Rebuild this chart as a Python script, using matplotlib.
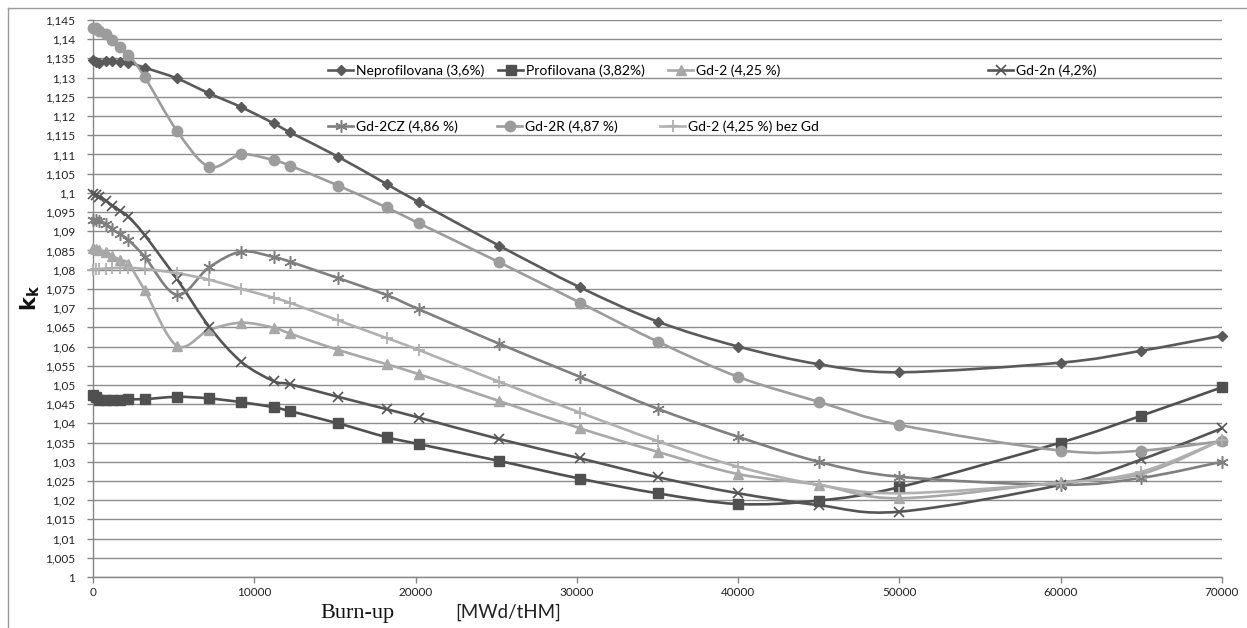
import matplotlib
matplotlib.use('Agg')
import matplotlib.pyplot as plt
import numpy as np
from matplotlib.path import Path
from matplotlib.patches import PathPatch
from matplotlib.lines import Line2D
from matplotlib.legend import Legend
from matplotlib.ticker import FuncFormatter, MultipleLocator

# burn-up steps [MWd/tHM]
burnup = [0, 200, 400, 800, 1200, 1700, 2200, 3200, 5200, 7200, 9200, 11200, 12200,
          15200, 18200, 20200, 25200, 30200, 35000, 40000, 45000, 50000, 60000, 65000, 70000]

neprofilovana = [1.1345, 1.1340, 1.1339, 1.1342, 1.1343, 1.1341, 1.1339, 1.1326, 1.1298,
                 1.1259, 1.1223, 1.1181, 1.1158, 1.1094, 1.1023, 1.0976, 1.0862, 1.0754,
                 1.0665, 1.0600, 1.0554, 1.0533, 1.0558, 1.0589, 1.0628]
profilovana = [1.0473, 1.0468, 1.0462, 1.0460, 1.0461, 1.0462, 1.0463, 1.0463, 1.0469,
               1.0465, 1.0455, 1.0442, 1.0432, 1.0400, 1.0364, 1.0346, 1.0302, 1.0256,
               1.0218, 1.0190, 1.0199, 1.0234, 1.0350, 1.0420, 1.0494]
gd2 = [1.0857, 1.0853, 1.0850, 1.0846, 1.0836, 1.0825, 1.0815, 1.0747, 1.0602, 1.0643,
       1.0662, 1.0649, 1.0634, 1.0591, 1.0554, 1.0528, 1.0458, 1.0387, 1.0326, 1.0268,
       1.0240, 1.0205, 1.0247, 1.0268, 1.0357]
gd2n = [1.0998, 1.0995, 1.0990, 1.0980, 1.0967, 1.0953, 1.0938, 1.0890, 1.0776, 1.0652,
        1.0560, 1.0510, 1.0502, 1.0469, 1.0437, 1.0415, 1.0359, 1.0309, 1.0260, 1.0218,
        1.0187, 1.0170, 1.0240, 1.0306, 1.0387]
gd2cz = [1.0930, 1.0929, 1.0926, 1.0920, 1.0905, 1.0892, 1.0877, 1.0834, 1.0734, 1.0806,
         1.0847, 1.0833, 1.0821, 1.0778, 1.0734, 1.0697, 1.0607, 1.0521, 1.0438, 1.0365,
         1.0300, 1.0261, 1.0240, 1.0258, 1.0300]
gd2r = [1.1430, 1.1428, 1.1422, 1.1414, 1.1398, 1.1381, 1.1360, 1.1302, 1.1162, 1.1068,
        1.1100, 1.1085, 1.1071, 1.1019, 1.0962, 1.0921, 1.0819, 1.0714, 1.0613, 1.0521,
        1.0456, 1.0396, 1.0329, 1.0329, 1.0354]
gd2_bez = [1.0800, 1.0801, 1.0802, 1.0803, 1.0804, 1.0805, 1.0805, 1.0802, 1.0791, 1.0774,
           1.0750, 1.0727, 1.0714, 1.0668, 1.0622, 1.0591, 1.0508, 1.0428, 1.0354, 1.0287,
           1.0240, 1.0218, 1.0245, 1.0274, 1.0357]

labels = ['Neprofilovana (3,6%)', 'Profilovana (3,82%)', 'Gd-2 (4,25 %)', 'Gd-2n (4,2%)',
          'Gd-2CZ (4,86 %)', 'Gd-2R (4,87 %)', 'Gd-2 (4,25 %) bez Gd']
series = [neprofilovana, profilovana, gd2, gd2n, gd2cz, gd2r, gd2_bez]

styles = [
    dict(color='#5a5a5a', marker='D', ms=5.5, mew=1),
    dict(color='#505050', marker='s', ms=7, mew=1),
    dict(color='#a8a8a8', marker='^', ms=7, mew=1),
    dict(color='#555555', marker='x', ms=7, mew=1.2),
    dict(color='#7f7f7f', marker=(6, 2, 0), ms=9, mew=1.1),
    dict(color='#9c9c9c', marker='o', ms=7.5, mew=1),
    dict(color='#b0b0b0', marker='+', ms=9, mew=1.3),
]


def smooth_path(x, y):
    # Excel-like smoothed line: cubic Bezier through every point
    pts = np.column_stack([x, y]).astype(float)
    n = len(pts)
    verts = [pts[0]]
    codes = [Path.MOVETO]
    for i in range(n - 1):
        p0 = pts[i - 1] if i > 0 else pts[i]
        p1 = pts[i]
        p2 = pts[i + 1]
        p3 = pts[i + 2] if i + 2 < n else pts[i + 1]
        verts += [p1 + (p2 - p0) / 6, p2 - (p3 - p1) / 6, p2]
        codes += [Path.CURVE4] * 3
    return Path(verts, codes)


plt.rcParams['font.family'] = ['Lato', 'DejaVu Sans']
plt.rcParams['mathtext.fontset'] = 'dejavusans'

fig = plt.figure(figsize=(12.47, 6.28), dpi=100)
W, H = 1247, 628
ax_l, ax_r, ax_t, ax_b = 93, 1222, 20, 577
ax = fig.add_axes([ax_l / W, 1 - ax_b / H, (ax_r - ax_l) / W, (ax_b - ax_t) / H])

handles = []
for vals, st in zip(series, styles):
    patch = PathPatch(smooth_path(burnup, vals), fill=False, edgecolor=st['color'], lw=1.9,
                      zorder=3)
    ax.add_patch(patch)
    ax.plot(burnup, vals, linestyle='none', marker=st['marker'], ms=st['ms'],
            mew=st['mew'], color=st['color'], zorder=4, clip_on=False)
    handles.append(Line2D([], [], color=st['color'], lw=1.9, marker=st['marker'],
                          ms=st['ms'], mew=st['mew']))

ax.set_xlim(0, 70000)
ax.set_ylim(1.0, 1.145)
ax.xaxis.set_major_locator(MultipleLocator(10000))
ax.yaxis.set_major_locator(MultipleLocator(0.005))


def yfmt(v, pos):
    s = f'{v:.3f}'.rstrip('0').rstrip('.')
    return s.replace('.', ',')


ax.yaxis.set_major_formatter(FuncFormatter(yfmt))
ax.xaxis.set_major_formatter(FuncFormatter(lambda v, p: f'{v:.0f}'))
ax.grid(axis='y', color='#8c8c8c', lw=1.0)
ax.set_axisbelow(True)
for s in ['top', 'right']:
    ax.spines[s].set_visible(False)
for s in ['left', 'bottom']:
    ax.spines[s].set_color('#868686')
    ax.spines[s].set_linewidth(1.0)
ax.tick_params(axis='both', colors='#868686', labelcolor='#222222', labelsize=8.5,
               length=4, width=1.0, direction='out')
ax.tick_params(axis='x', pad=3)
ax.tick_params(axis='y', pad=9)

# legend entries, placed one by one like the original layout
leg_pos = [(328, 70.5), (498, 70.5), (668, 70.5), (988, 70.5),
           (328, 127), (497, 127), (660, 127)]
for h, lab, (px, py) in zip(handles, labels, leg_pos):
    lg = Legend(ax, [h], [lab], loc='center left',
                bbox_to_anchor=((px - ax_l) / (ax_r - ax_l), (ax_b - py) / (ax_b - ax_t)),
                frameon=False, borderpad=0, borderaxespad=0, handlelength=1.8,
                handletextpad=0.2, numpoints=1, fontsize=10)
    ax.add_artist(lg)

fig.text(30 / W, 1 - 298 / H, r'$\mathbf{k}_{\mathbf{k}}$', rotation=90, fontsize=15,
         ha='center', va='center', color='#111111')
fig.text(320 / W, 1 - 618 / H, 'Burn-up', family='Liberation Serif', fontsize=16,
         ha='left', va='baseline', color='#111111')
fig.text(455 / W, 1 - 618 / H, '[MWd/tHM]', fontsize=13.5, ha='left', va='baseline',
         color='#222222')

# outer chart frame (only top and left visible in the crop)
fig.add_artist(Line2D([8 / W, 8 / W], [0, 1 - 8 / H], color='#9a9a9a', lw=1.0))
fig.add_artist(Line2D([8 / W, 1], [1 - 8 / H, 1 - 8 / H], color='#9a9a9a', lw=1.0))

plt.savefig('out.png', dpi=100)
